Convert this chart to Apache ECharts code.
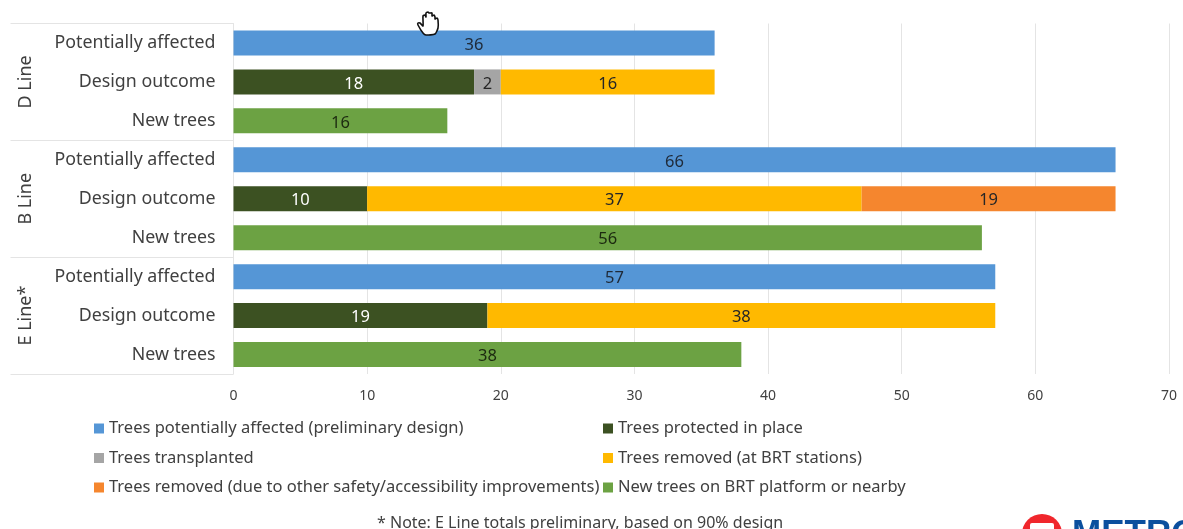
<!DOCTYPE html>
<html>
<head>
<meta charset="utf-8">
<style>
html, body { margin: 0; padding: 0; background: #fff; }
#main { width: 1183px; height: 529px; }
</style>
<script src="https://cdn.jsdelivr.net/npm/echarts@6/dist/echarts.min.js"></script>
</head>
<body>
<div id="main"></div>
<script>
var categories = ['Potentially affected', 'Design outcome', 'New trees',
    'Potentially affected', 'Design outcome', 'New trees',
    'Potentially affected', 'Design outcome', 'New trees'];
var groups = ['D Line', 'B Line', 'E Line*'];
var affected = [36, null, null, 66, null, null, 57, null, null];
var protectedTrees = [null, 18, null, null, 10, null, null, 19, null];
var transplanted = [null, 2, null, null, null, null, null, null, null];
var removedStations = [null, 16, null, null, 37, null, null, 38, null];
var removedOther = [null, null, null, null, 19, null, null, null, null];
var newTrees = [null, null, 16, null, null, 56, null, null, 38];
var noteText = '* Note: E Line totals preliminary, based on 90% design';

var FONT = 'Noto Sans';
var TEXT = '#404040';
// cursor outline, drawn over the chart
var HAND = [[423, 33], [418, 25], [418, 23], [420, 23], [423, 26], [423, 16], [425, 15], [426, 17],
    [426, 13], [428, 12], [429, 13], [430, 13], [432, 13], [432, 16], [434, 15], [435, 17], [435, 19],
    [437, 18], [438, 20], [438, 28], [435, 34], [426, 35]];

function bar(name, data, color, labelColor) {
    return {
        name: name,
        type: 'bar',
        stack: 'trees',
        data: data,
        barWidth: 25,
        itemStyle: { color: color },
        label: {
            show: true,
            position: 'inside',
            offset: [0, 2],
            color: labelColor,
            fontFamily: FONT,
            fontSize: 16.5
        }
    };
}

function legend(left, names) {
    return {
        left: left,
        top: 418.5,
        padding: 0,
        orient: 'vertical',
        itemWidth: 10,
        itemHeight: 10,
        itemGap: 9.5,
        icon: 'rect',
        selectedMode: false,
        data: names,
        textStyle: { color: TEXT, fontFamily: FONT, fontSize: 16.5, lineHeight: 20, padding: 0 }
    };
}

var myChart = echarts.init(document.getElementById('main'));

myChart.setOption({
    animation: false,
    backgroundColor: '#fff',
    grid: { left: 233.5, right: 14, top: 23.5, bottom: 155, containLabel: false },
    title: {
        text: noteText,
        left: 377,
        top: 515,
        padding: 0,
        textStyle: { color: TEXT, fontFamily: FONT, fontSize: 16, fontWeight: 'normal' }
    },
    legend: [
        legend(94, ['Trees potentially affected (preliminary design)', 'Trees transplanted',
            'Trees removed (due to other safety/accessibility improvements)']),
        legend(603, ['Trees protected in place', 'Trees removed (at BRT stations)',
            'New trees on BRT platform or nearby'])
    ],
    xAxis: {
        type: 'value',
        min: 0,
        max: 70,
        interval: 10,
        axisLine: { show: false },
        axisTick: { show: false },
        axisLabel: { color: TEXT, fontFamily: FONT, fontSize: 14, margin: 15 },
        splitLine: { lineStyle: { color: '#e4e4e4', width: 1 } }
    },
    yAxis: [
        {
            type: 'category',
            inverse: true,
            data: categories,
            axisLine: { show: false },
            axisTick: { show: false },
            axisLabel: { color: TEXT, fontFamily: FONT, fontSize: 17.8, margin: 18, interval: 0 }
        },
        {
            type: 'category',
            inverse: true,
            position: 'left',
            data: groups,
            axisLine: { show: true, lineStyle: { color: '#e4e4e4' } },
            axisTick: { show: true, length: 223, lineStyle: { color: '#e4e4e4' } },
            axisLabel: { color: TEXT, fontFamily: FONT, fontSize: 18, rotate: 90, margin: 199, interval: 0, align: 'center', verticalAlign: 'bottom' }
        }
    ],
    series: [
        bar('Trees potentially affected (preliminary design)', affected, '#5596d6', '#1f2a38'),
        bar('Trees protected in place', protectedTrees, '#3c5122', '#ffffff'),
        bar('Trees transplanted', transplanted, '#a5a5a5', '#262626'),
        bar('Trees removed (at BRT stations)', removedStations, '#ffb900', '#262626'),
        bar('Trees removed (due to other safety/accessibility improvements)', removedOther, '#f5862e', '#262626'),
        bar('New trees on BRT platform or nearby', newTrees, '#6ca243', '#1c2a10')
    ],
    graphic: [
        { type: 'circle', z: 10, shape: { cx: 1042, cy: 534, r: 20 }, style: { fill: '#f0262c' } },
        { type: 'rect', z: 11, shape: { x: 1030, y: 523, width: 24, height: 12, r: 2 }, style: { fill: '#fff' } },
        { type: 'text', z: 11, x: 1072, y: 517, style: { text: 'METRO', fill: '#0b4f9e', fontFamily: 'Liberation Sans', fontWeight: 'bold', fontSize: 35 } },
        { type: 'polygon', z: 12, shape: { points: HAND, smooth: 0.2 }, style: { fill: '#fff', stroke: '#111', lineWidth: 1.6 } }
    ]
});
</script>
</body>
</html>
